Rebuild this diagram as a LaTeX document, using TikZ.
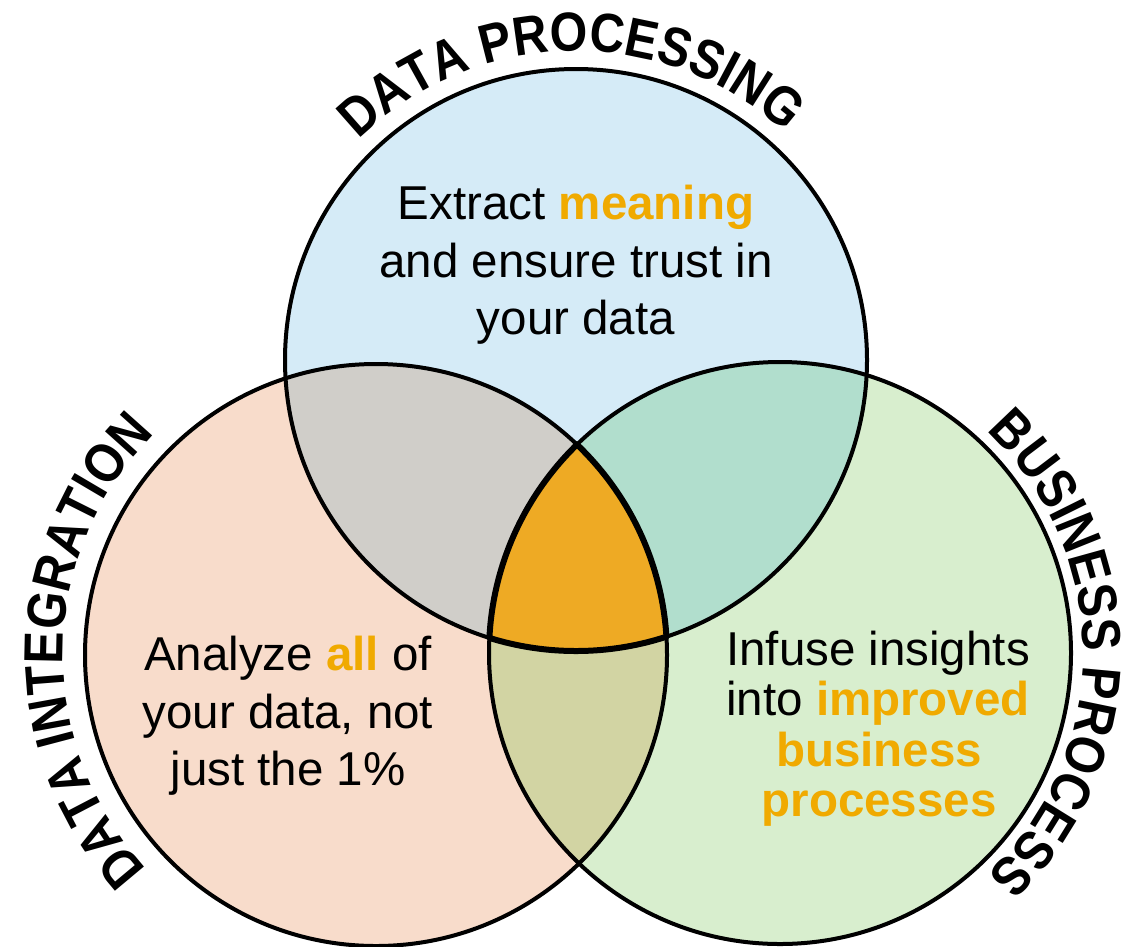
\documentclass[tikz,border=0pt]{standalone}
\usepackage{fontspec}
\setmainfont{Liberation Sans}
\newfontfamily\titlefam[FakeStretch=0.88]{Liberation Sans}
\usetikzlibrary{decorations.text}
\definecolor{blueF}{RGB}{213,235,247}
\definecolor{peachF}{RGB}{248,220,203}
\definecolor{greenF}{RGB}{216,238,206}
\definecolor{grayF}{RGB}{208,206,201}
\definecolor{tealF}{RGB}{177,222,205}
\definecolor{oliveF}{RGB}{210,212,163}
\definecolor{centerF}{RGB}{238,170,36}
\definecolor{orangeT}{RGB}{240,170,0}
\newcommand{\bodyfont}{\fontsize{47.5}{58}\selectfont}
\newcommand{\titlefont}{\titlefam\bfseries\fontsize{55}{55}\selectfont}
\newcommand{\hl}[1]{{\color{orangeT}\bfseries #1}}
\tikzset{
  outline/.style={draw=black, line width=4pt},
  bodytext/.style={anchor=base, inner sep=0pt, font=\bodyfont, text=black},
}
\begin{document}
\begin{tikzpicture}[x=1pt,y=1pt]
\useasboundingbox (0,0) rectangle (1126,-946);
\coordinate (T) at (576,-360);
\coordinate (L) at (376,-655);
\coordinate (R) at (780,-653);
\def\rad{291pt}
% base fills
\fill[blueF] (T) circle[radius=\rad];
\fill[peachF] (L) circle[radius=\rad];
\fill[greenF] (R) circle[radius=\rad];
% pairwise overlaps
\begin{scope}\clip (T) circle[radius=\rad]; \fill[grayF] (L) circle[radius=\rad];\end{scope}
\begin{scope}\clip (T) circle[radius=\rad]; \fill[tealF] (R) circle[radius=\rad];\end{scope}
\begin{scope}\clip (L) circle[radius=\rad]; \fill[oliveF] (R) circle[radius=\rad];\end{scope}
% centre
\begin{scope}\clip (T) circle[radius=\rad]; \clip (L) circle[radius=\rad]; \fill[centerF] (R) circle[radius=\rad];\end{scope}
% outlines
\draw[outline] (T) circle[radius=\rad];
\draw[outline] (L) circle[radius=\rad];
\draw[outline] (R) circle[radius=\rad];
% thick outline of the centre
\begin{scope}\clip (T) circle[radius=293pt]; \clip (L) circle[radius=293pt]; \draw[line width=6pt] (R) circle[radius=\rad];\end{scope}
\begin{scope}\clip (T) circle[radius=293pt]; \clip (R) circle[radius=293pt]; \draw[line width=6pt] (L) circle[radius=\rad];\end{scope}
\begin{scope}\clip (L) circle[radius=293pt]; \clip (R) circle[radius=293pt]; \draw[line width=6pt] (T) circle[radius=\rad];\end{scope}
% curved titles
\path[decorate, decoration={text along path, text align=center, text={|\titlefont|DATA PROCESSING}}]
  (T) ++(142:309) arc[start angle=142, end angle=40, radius=309pt];
\path[decorate, decoration={text along path, text align=center, text={|\titlefont|DATA INTEGRATION}}]
  (L) ++(229:313) arc[start angle=229, end angle=129, radius=313pt];
\path[decorate, decoration={text along path, text align=center, text={|\titlefont|BUSINESS PROCESS}}]
  (R) ++(51:303) arc[start angle=51, end angle=-51, radius=303pt];
% body texts
\node[bodytext] (t1) at (576,-219) {Extract \hl{meaning}};
\node[bodytext] (t2) at (576,-277) {and ensure trust in};
\node[bodytext] (t3) at (576,-334) {your data};
\node[bodytext] (l1) at (288,-670) {Analyze \hl{all} of};
\node[bodytext] (l2) at (288,-728) {your data, not};
\node[bodytext] (l3) at (288,-785) {just the 1\%};
\node[bodytext] (r1) at (878,-665) {Infuse insights};
\node[bodytext] (r2) at (878,-715) {into \hl{improved}};
\node[bodytext] (r3) at (879,-766) {\hl{business}};
\node[bodytext] (r4) at (879,-816) {\hl{processes}};
\end{tikzpicture}
\end{document}
